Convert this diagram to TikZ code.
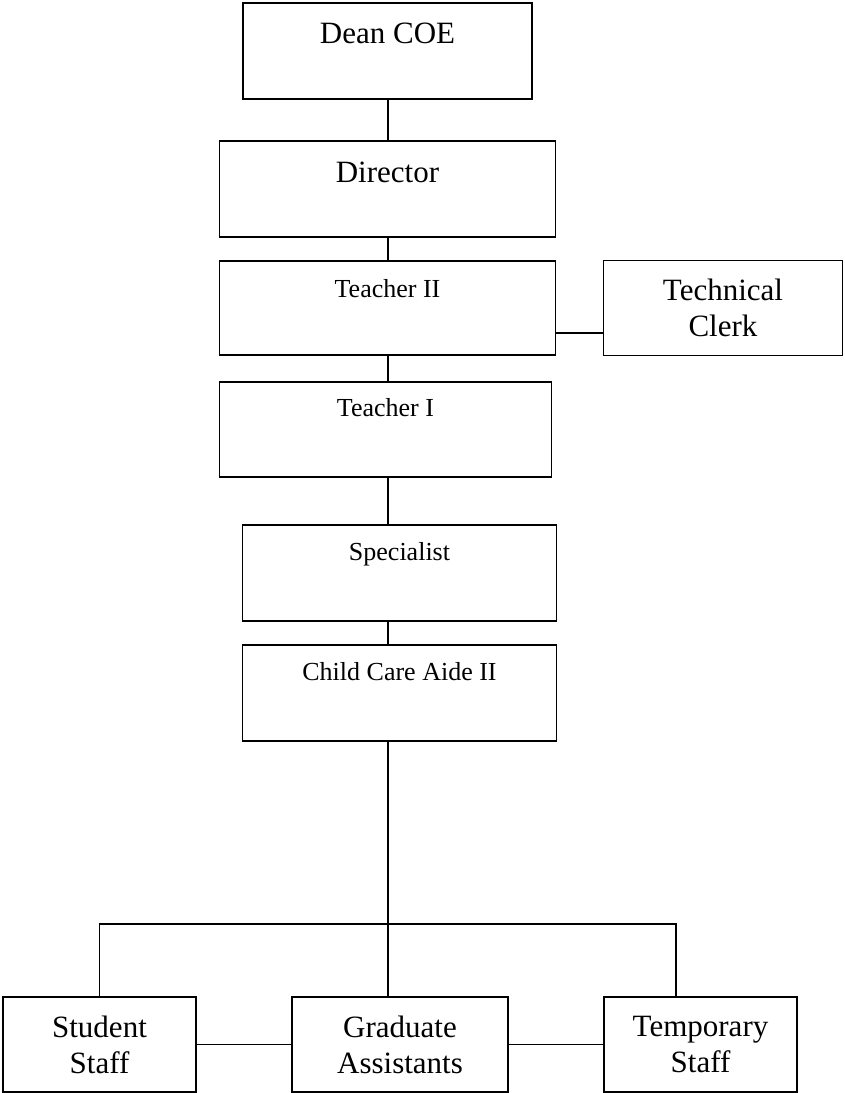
\documentclass[tikz,border=0pt]{standalone}
\usepackage{fontspec}
\setmainfont{Liberation Serif}
\usepackage{tikz}
\usetikzlibrary{positioning,calc}

\newcommand{\orgbig}{\fontsize{31}{36}\selectfont}
\newcommand{\orgsmall}{\fontsize{26}{30}\selectfont}

\begin{document}
\begin{tikzpicture}[
            x=1pt, y=-1pt,
            box/.style={rectangle, draw, line width=1.8pt, inner sep=0pt, outer sep=0pt},
            headbox/.style={box, font=\orgbig},
            staffbox/.style={box, font=\orgsmall},
            twoline/.style={box, font=\orgbig, align=center, minimum height=95pt},
            link/.style={line width=1.4pt}
        ]
            \useasboundingbox (0,0) rectangle (845,1093);

            % main chain
            \node[headbox, minimum width=289pt, text height=40pt, text depth=56pt, anchor=north] (dean) at (387.5,3) {Dean COE};
            \node[headbox, minimum width=336pt, text height=41pt, text depth=55pt, below=42pt of dean] (director) {Director};
            \node[staffbox, minimum width=336pt, text height=36pt, text depth=58pt, below=24pt of director] (teacher2) {Teacher II};
            \node[staffbox, minimum width=332pt, text height=34pt, text depth=61pt, below=27pt of teacher2, xshift=-2pt] (teacher1) {Teacher I};
            \node[staffbox, minimum width=314pt, text height=35pt, text depth=61pt, below=48pt of teacher1, xshift=14pt] (specialist) {Specialist};
            \node[staffbox, minimum width=314pt, text height=35pt, text depth=61pt, below=24pt of specialist] (aide) {Child Care Aide II};
            \node[twoline, minimum width=239pt, right=48pt of teacher2] (clerk) {Technical\\Clerk};

            % bottom row
            \node[twoline, minimum width=216pt, anchor=north] (grad) at (400,997) {Graduate\\Assistants};
            \node[twoline, minimum width=193pt, left=96pt of grad] (student) {Student\\Staff};
            \node[twoline, minimum width=193pt, right=96pt of grad] (temp) {Temporary\\Staff};

            \coordinate (spine) at (388,0);
            \coordinate (bar) at (388,924);
            \coordinate (tdrop) at (676,924);

            \draw[link] (dean.south -| spine) -- (director.north -| spine);
            \draw[link] (director.south -| spine) -- (teacher2.north -| spine);
            \draw[link] (teacher2.south -| spine) -- (teacher1.north -| spine);
            \draw[link] (teacher1.south -| spine) -- (specialist.north -| spine);
            \draw[link] (specialist.south -| spine) -- (aide.north -| spine);
            \draw[link] (aide.south -| spine) -- (grad.north -| spine);
            \draw[link] ([yshift=-25pt]teacher2.east) -- ([yshift=-25pt]clerk.west);
            \draw[link] (student.north) |- (bar) -- (tdrop) -- (tdrop |- temp.north);
            \draw[link] (student) -- (grad);
            \draw[link] (grad) -- (temp);
        \end{tikzpicture}
\end{document}
